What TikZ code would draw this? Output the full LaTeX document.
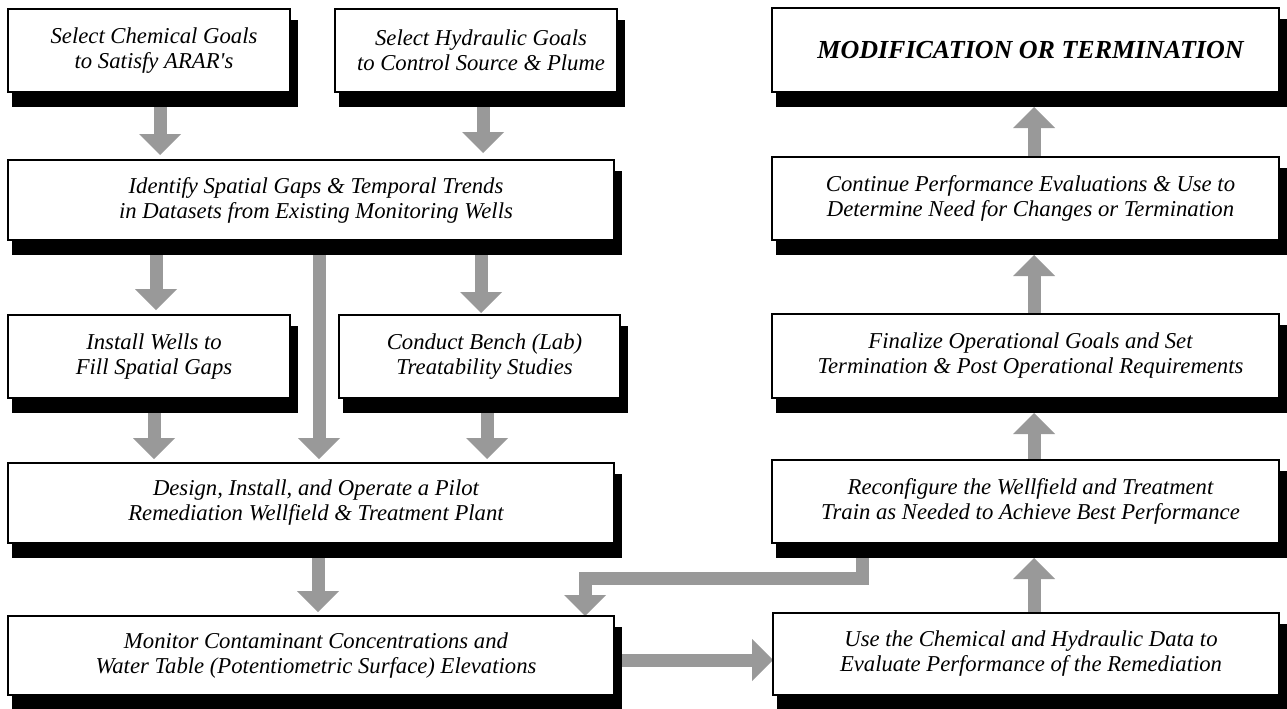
\documentclass[tikz,border=0pt]{standalone}
\usepackage{fontspec}
\setmainfont{Liberation Serif}
\usetikzlibrary{arrows.meta,calc}
\pgfdeclarelayer{bg}
\pgfdeclarelayer{arrowlayer}
\pgfdeclarelayer{shadowlayer}
\pgfsetlayers{bg,arrowlayer,shadowlayer,main}
\definecolor{arrowgray}{RGB}{153,153,153}
\tikzset{
  flowbox/.style={draw=black, line width=1.2pt, fill=white, inner sep=0pt, outer sep=0pt},
  flowtxt/.style={align=center, inner sep=0pt, font=\fontsize{22.7}{25}\selectfont\itshape},
  bigtxt/.style={align=center, inner sep=0pt, font=\fontsize{26}{28}\selectfont\bfseries\itshape},
  fat/.style={draw=arrowgray, line width=13pt, line join=miter,
    -{Triangle[width=42pt,length=21pt,line width=0pt]}},
}
\newcommand\FlowBox[7][flowtxt]{%
  \node[flowbox, minimum width={(#5-#3)*1pt}, minimum height={(#6-#4)*1pt}]
    (#2) at ({(#3+#5)/2},{(#4+#6)/2}) {};
  \node[#1] (#2-t) at ([xshift=5pt]#2.center) {#7};
  \begin{pgfonlayer}{shadowlayer}
    \fill[black] ([shift={(4,11)}]#2.north west) rectangle ([shift={(8,15)}]#2.south east);
  \end{pgfonlayer}
}
\begin{document}
\begin{tikzpicture}[x=1pt,y=-1pt]
\begin{pgfonlayer}{bg}
  \fill[white] (0,0) rectangle (1287,709);
\end{pgfonlayer}
\useasboundingbox (0,0) rectangle (1287,709);

% left column boxes
\FlowBox{chem}{8}{9}{290}{92}{Select Chemical Goals\\to Satisfy ARAR\textquotesingle s}
\FlowBox{hydr}{335}{9}{617}{92}{Select Hydraulic Goals\\to Control Source \& Plume}
\FlowBox{ident}{8}{160}{614}{240}{Identify Spatial Gaps \& Temporal Trends\\in Datasets from Existing Monitoring Wells}
\FlowBox{install}{8}{315}{290}{398}{Install Wells to\\Fill Spatial Gaps}
\FlowBox{conduct}{339}{315}{620}{398}{Conduct Bench (Lab)\\Treatability Studies}
\FlowBox{design}{8}{463}{614}{543}{Design, Install, and Operate a Pilot\\Remediation Wellfield \& Treatment Plant}
\FlowBox{monitor}{8}{616}{614}{695}{Monitor Contaminant Concentrations and\\Water Table (Potentiometric Surface) Elevations}

% right column boxes
\FlowBox[bigtxt]{modif}{772}{8}{1279}{92}{MODIFICATION OR TERMINATION}
\FlowBox{cont}{772}{157}{1279}{240}{Continue Performance Evaluations \& Use to\\Determine Need for Changes or Termination}
\FlowBox{final}{772}{314}{1279}{398}{Finalize Operational Goals and Set\\Termination \& Post Operational Requirements}
\FlowBox{recon}{772}{460}{1279}{543}{Reconfigure the Wellfield and Treatment\\Train as Needed to Achieve Best Performance}
\FlowBox{use}{773}{613}{1279}{695}{Use the Chemical and Hydraulic Data to\\Evaluate Performance of the Remediation}

% arrow guide coordinates
\coordinate (xa) at (160,0);
\coordinate (xb) at (483,0);
\coordinate (xc) at (156,0);
\coordinate (xd) at (319,0);
\coordinate (xe) at (481,0);
\coordinate (xf) at (154,0);
\coordinate (xg) at (487,0);
\coordinate (xh) at (318,0);
\coordinate (xr) at (1034,0);
\coordinate (yr) at (0,660);
\coordinate (e1) at (862,578);
\coordinate (e2) at (585,578);

\begin{pgfonlayer}{arrowlayer}
  \draw[fat] (chem.south -| xa) -- ([yshift=5pt]ident.north -| xa);
  \draw[fat] (hydr.south -| xb) -- ([yshift=7pt]ident.north -| xb);
  \draw[fat] (ident.south -| xc) -- ([yshift=5pt]install.north -| xc);
  \draw[fat] (ident.south -| xd) -- ([yshift=4pt]design.north -| xd);
  \draw[fat] (ident.south -| xe) -- ([yshift=2pt]conduct.north -| xe);
  \draw[fat] (install.south -| xf) -- ([yshift=4pt]design.north -| xf);
  \draw[fat] (conduct.south -| xg) -- ([yshift=4pt]design.north -| xg);
  \draw[fat] (design.south -| xh) -- ([yshift=4pt]monitor.north -| xh);
  \draw[fat] (monitor.east |- yr) -- (use.west |- yr);
  \draw[fat] (use.north -| xr) -- ([yshift=-15pt]recon.south -| xr);
  \draw[fat] (recon.north -| xr) -- ([yshift=-15pt]final.south -| xr);
  \draw[fat] (final.north -| xr) -- ([yshift=-15pt]cont.south -| xr);
  \draw[fat] (cont.north -| xr) -- ([yshift=-15pt]modif.south -| xr);
  \draw[fat] (recon.south -| e1) -- (e1) -- (e2) -- (monitor.north -| e2);
\end{pgfonlayer}
\end{tikzpicture}
\end{document}
